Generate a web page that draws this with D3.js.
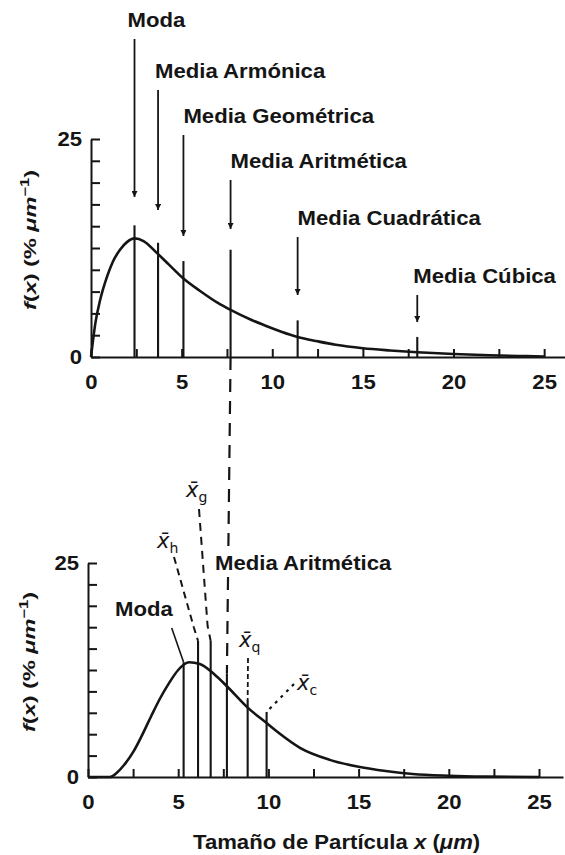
<!DOCTYPE html>
<html>
<head>
<meta charset="utf-8">
<script src="https://cdn.jsdelivr.net/npm/d3@7"></script>
<style>
  body { margin: 0; background: #fff; }
  svg { display: block; }
  text { font-family: "Liberation Sans", Arial, sans-serif; fill: #151515; }
  .lab { font-size: 19.5px; font-weight: bold; }
  .sym { font-family: "DejaVu Sans", sans-serif; font-size: 21px; font-style: italic; }
</style>
</head>
<body>
<svg id="chart" width="565" height="855"></svg>
<script>
// Particle size distribution f(x), % per µm — narrow-mode case (upper panel)
const topSizes   = [0, 0.25, 0.5, 0.9, 1.2, 1.6, 2.0, 2.4, 2.9, 3.6, 4.3, 5.1, 6.0, 7.0, 7.7, 8.8, 9.5, 10.5, 11.4, 12.5, 13.5, 15, 16.5, 18, 20, 22, 24, 25];
const topDensity = [0, 4.0, 6.5, 9.3, 10.9, 12.3, 13.2, 13.6, 13.3, 12.0, 10.6, 9.0, 7.6, 6.2, 5.4, 4.3, 3.7, 2.9, 2.3, 1.8, 1.4, 1.0, 0.75, 0.55, 0.35, 0.2, 0.1, 0.05];

// Same quantity for the shifted distribution (lower panel)
const botSizes   = [0, 1.2, 1.6, 2.0, 2.5, 3.0, 3.5, 4.0, 4.5, 5.0, 5.6, 6.2, 7.0, 7.7, 8.85, 9.9, 10.6, 11.75, 13.4, 15, 16.5, 18, 20, 22, 25];
const botDensity = [0, 0, 0.5, 1.4, 2.9, 4.9, 7.1, 9.2, 11.0, 12.5, 13.4, 13.2, 12.0, 10.6, 8.1, 6.3, 5.1, 3.4, 2.0, 1.2, 0.7, 0.35, 0.15, 0.05, 0];

// Central values of the upper distribution and the heights of their markers
const topMeanNames   = ["Moda", "Media Armónica", "Media Geométrica", "Media Aritmética", "Media Cuadrática", "Media Cúbica"];
const topMeanSizes   = [2.4, 3.7, 5.1, 7.7, 11.4, 18.0];
const topMeanHeights = [15.1, 13.1, 11.0, 12.3, 4.2, 2.3];

// Central values of the lower distribution
const botMeanNames   = ["Moda", "x\u0304h", "x\u0304g", "Media Aritmética", "x\u0304q", "x\u0304c"];
const botMeanSizes   = [5.3, 6.1, 6.8, 7.7, 8.85, 9.9];
const botMeanHeights = [13.4, 15.9, 15.9, 12.1, 9.0, 7.6];

// Axis ticks
const xTickValues = [0, 2.5, 5, 7.5, 10, 12.5, 15, 17.5, 20, 22.5, 25];
const xTickLabels = [0, 5, 10, 15, 20, 25];
const yTickValues = [0, 2.5, 5, 7.5, 10, 12.5, 15, 17.5, 20, 22.5, 25];
const yTickLabels = [0, 25];
const xTitle = "Tamaño de Partícula";

const svg = d3.select("#chart");
const INK = "#151515";
const STRETCH = 1.135;

const xTop = d3.scaleLinear().domain([0, 26.15]).range([91, 565]);
const yTop = d3.scaleLinear().domain([0, 25]).range([357, 139]);
const xBot = d3.scaleLinear().domain([0, 26.33]).range([88, 563]);
const yBot = d3.scaleLinear().domain([0, 25]).range([777, 563]);

// Arrowhead used by the upper panel's labels
svg.append("defs").append("marker")
  .attr("id", "arrow").attr("markerUnits", "userSpaceOnUse")
  .attr("viewBox", "0 0 10 10").attr("refX", 10).attr("refY", 5)
  .attr("markerWidth", 9).attr("markerHeight", 6).attr("orient", "auto")
  .append("path").attr("d", "M0,0 L10,5 L0,10 Z").attr("fill", INK);

function drawAxes(x, y) {
  const gx = svg.append("g").attr("transform", `translate(0,${y(0)})`)
    .call(d3.axisBottom(x).tickValues(xTickValues).tickSizeInner(-8).tickSizeOuter(0).tickPadding(18)
      .tickFormat(d => xTickLabels.includes(d) ? d : ""));
  const gy = svg.append("g").attr("transform", `translate(${x(0)},0)`)
    .call(d3.axisLeft(y).tickValues(yTickValues).tickSizeInner(-9).tickSizeOuter(0).tickPadding(9)
      .tickFormat(d => yTickLabels.includes(d) ? d : ""));
  [gx, gy].forEach(g => {
    g.attr("font-family", null).attr("font-size", null);
    g.selectAll("path, line").attr("stroke", INK).attr("stroke-width", 2);
    g.selectAll("text").attr("class", "lab").attr("fill", INK);
  });
}

function yTitle(cx, cy) {
  const t = svg.append("text")
    .attr("transform", `translate(${cx},${cy}) rotate(-90)`)
    .attr("text-anchor", "middle")
    .style("font-size", "17px").style("font-weight", "bold");
  t.append("tspan").attr("font-style", "italic").text("f");
  t.append("tspan").text("(");
  t.append("tspan").attr("font-style", "italic").text("x");
  t.append("tspan").text(") (% ");
  t.append("tspan").attr("font-style", "italic").text("μm");
  t.append("tspan").attr("dy", -7).style("font-size", "12px").text("−1");
  t.append("tspan").attr("dy", 7).text(")");
  t.attr("textLength", 140).attr("lengthAdjust", "spacingAndGlyphs");
}

function curve(x, y, xs, ys) {
  svg.append("path")
    .datum(xs.map((v, i) => [v, ys[i]]))
    .attr("fill", "none").attr("stroke", INK).attr("stroke-width", 2.6)
    .attr("stroke-linejoin", "round")
    .attr("d", d3.line().x(d => x(d[0])).y(d => y(d[1])).curve(d3.curveMonotoneX));
}

function meanLines(x, y, sizes, heights) {
  svg.append("g").selectAll("line").data(sizes).join("line")
    .attr("x1", d => x(d)).attr("x2", d => x(d))
    .attr("y1", y(0)).attr("y2", (d, i) => y(heights[i]))
    .attr("stroke", INK).attr("stroke-width", 2.1);
}

// ---------- upper panel ----------
drawAxes(xTop, yTop);
yTitle(36, 240);
curve(xTop, yTop, topSizes, topDensity);
meanLines(xTop, yTop, topMeanSizes, topMeanHeights);

const topLabelBase = [27, 78, 123, 168, 225, 283];
const topLabelShift = [-7, -3, 0, 0, 0, -4];
const topArrowTip = [197, 210, 236, 229, 295, 322];
topMeanNames.forEach((name, i) => {
  const xv = xTop(topMeanSizes[i]);
  svg.append("text").attr("class", "lab")
    .attr("x", xv + topLabelShift[i]).attr("y", topLabelBase[i]).text(name);
  svg.append("line")
    .attr("x1", xv).attr("x2", xv)
    .attr("y1", topLabelBase[i] + 12).attr("y2", topArrowTip[i])
    .attr("stroke", INK).attr("stroke-width", 1.8)
    .attr("marker-end", "url(#arrow)");
});

// ---------- lower panel ----------
drawAxes(xBot, yBot);
yTitle(35, 662);
curve(xBot, yBot, botSizes, botDensity);
meanLines(xBot, yBot, botMeanSizes, botMeanHeights);

// arithmetic mean carried from the upper panel to the lower one
const iA = 3;
svg.append("line")
  .attr("x1", xTop(topMeanSizes[iA])).attr("y1", yTop(0))
  .attr("x2", xBot(botMeanSizes[iA])).attr("y2", yBot(botMeanHeights[iA]))
  .attr("stroke", INK).attr("stroke-width", 2.2).attr("stroke-dasharray", "13,9");

// label anchors and leader routes for the lower panel
const botLabelPos = [[115, 616], [157, 548], [186, 497], [215, 570], [239, 647], [297, 690]];
const botLeaders = [
  { from: [171.7, 628], via: null, dash: null, w: 1.6 },
  { from: [174, 557], via: [194, 628], dash: "7,5", w: 2 },
  { from: [199, 509], via: [207.6, 626], dash: "8,6", w: 2 },
  null,
  { from: [248, 658], via: null, dash: "5,3", w: 1.8 },
  { from: [294, 684], via: null, dash: "3,5", w: 2.2 }
];

botMeanNames.forEach((name, i) => {
  const end = [xBot(botMeanSizes[i]), yBot(botMeanHeights[i])];
  const ld = botLeaders[i];
  if (ld) {
    const pts = ld.via ? [ld.from, ld.via, end] : [ld.from, end];
    svg.append("path").attr("d", d3.line()(pts))
      .attr("fill", "none").attr("stroke", INK).attr("stroke-width", ld.w)
      .attr("stroke-dasharray", ld.dash);
  }
  const [lx, ly] = botLabelPos[i];
  const m = name.match(/^x\u0304(.)$/);
  if (m) {
    const t = svg.append("text").attr("class", "sym").attr("x", lx).attr("y", ly);
    t.append("tspan").text("x\u0304");
    t.append("tspan").attr("dy", 5).style("font-size", "14px").style("font-style", "normal").text(m[1]);
  } else {
    if (i === iA) {
      svg.append("text").attr("class", "lab").attr("x", lx).attr("y", ly)
        .attr("stroke", "#fff").attr("stroke-width", 6).attr("fill", "#fff").text(name);
    }
    svg.append("text").attr("class", "lab").attr("x", lx).attr("y", ly).text(name);
  }
});

// x-axis title
const xt = svg.append("text").attr("class", "lab").attr("x", 193).attr("y", 849);
xt.append("tspan").text(xTitle + "  ");
xt.append("tspan").attr("font-style", "italic").text("x");
xt.append("tspan").text(" (");
xt.append("tspan").attr("font-style", "italic").text("μm");
xt.append("tspan").text(")");

// widen all label text to the typeface's proportions
svg.selectAll("text.lab").each(function () {
  const w = this.getComputedTextLength();
  d3.select(this).attr("textLength", w * STRETCH).attr("lengthAdjust", "spacingAndGlyphs");
});
</script>
</body>
</html>
